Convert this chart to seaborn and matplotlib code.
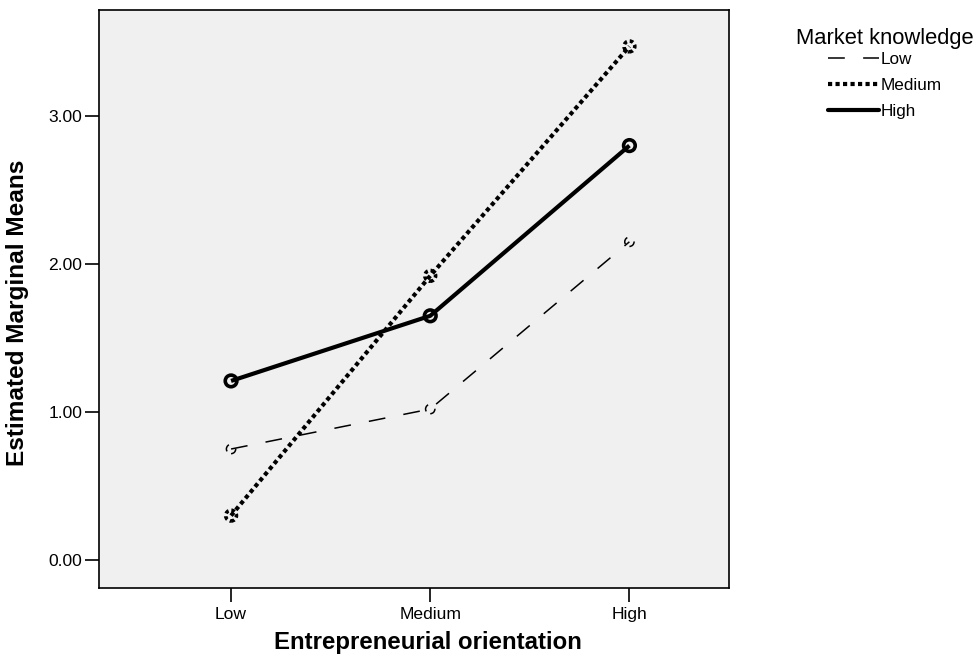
import pandas as pd
import seaborn as sns
import matplotlib.pyplot as plt

# data
orientation = ['Low', 'Medium', 'High']
knowledge = ['Low', 'Medium', 'High']
mk_low = [0.75, 1.02, 2.15]
mk_medium = [0.30, 1.92, 3.47]
mk_high = [1.21, 1.65, 2.80]

df = pd.DataFrame({
    'Entrepreneurial orientation': orientation * 3,
    'Market knowledge': ['Low'] * 3 + ['Medium'] * 3 + ['High'] * 3,
    'Estimated Marginal Means': mk_low + mk_medium + mk_high,
})

sns.set_theme(style='ticks')
plt.rcParams['font.family'] = ['Liberation Sans', 'DejaVu Sans']
plt.rcParams['text.color'] = 'black'
plt.rcParams['axes.labelcolor'] = 'black'

fig = plt.figure(figsize=(9.8, 6.66), dpi=100)
ax = fig.add_axes([99 / 980, 78 / 666, 630 / 980, 578 / 666])
ax.set_facecolor('#f0f0f0')

styles = {'Low': (11, 12), 'Medium': (1.0, 0.8), 'High': ''}
widths = {'Low': 1.1, 'Medium': 3.0, 'High': 3.0}

sns.lineplot(data=df, x='Entrepreneurial orientation', y='Estimated Marginal Means',
             hue='Market knowledge', hue_order=knowledge,
             palette=['black'] * 3, style='Market knowledge', style_order=knowledge,
             dashes=styles, markers=False, sort=False, ax=ax)

for line, k in zip(ax.get_lines()[:3], knowledge):
    line.set_linewidth(widths[k])
    line.set_solid_capstyle('butt')
    line.set_dash_capstyle('butt')

# ring markers, broken the same way as their lines
ax.scatter(range(3), mk_low, s=45, facecolors='none', edgecolors='black',
           linewidths=1.1, linestyles=(0, (5, 6)), zorder=3)
ax.scatter(range(3), mk_medium, s=60, facecolors='none', edgecolors='black',
           linewidths=2.6, linestyles=(0, (1.0, 0.8)), zorder=3)
ax.scatter(range(3), mk_high, s=70, facecolors='none', edgecolors='black',
           linewidths=2.6, zorder=3)

ax.set_xlim(-0.663, 2.5)
ax.set_ylim(-0.189, 3.716)
ax.set_yticks([0, 1, 2, 3])
ax.set_yticklabels(['0.00', '1.00', '2.00', '3.00'])
ax.tick_params(axis='both', length=10, width=1.2, labelsize=12.6, colors='black')
ax.tick_params(axis='x', pad=4)
ax.tick_params(axis='y', pad=2)

for s in ax.spines.values():
    s.set_visible(True)
    s.set_color('black')
    s.set_linewidth(1.2)

ax.set_xlabel('Entrepreneurial orientation', fontsize=17.3, fontweight='bold')
ax.set_ylabel('Estimated Marginal Means', fontsize=17.6, fontweight='bold')
ax.xaxis.set_label_coords(0.522, -0.075)
ax.yaxis.set_label_coords(-0.111, 0.476)

leg = ax.legend(title='Market knowledge', loc='upper left',
                bbox_to_anchor=(796 / 980, 1 - 28 / 666), bbox_transform=fig.transFigure,
                frameon=False, fontsize=12.3, title_fontsize=15.8, handlelength=3.0,
                handletextpad=0.1, labelspacing=0.66, borderaxespad=0, borderpad=0)
leg._legend_box.sep = 2
for h, k in zip(leg.get_lines(), knowledge):
    h.set_linewidth(widths[k])
    h.set_color('black')

fig.savefig('out.png', dpi=100)
